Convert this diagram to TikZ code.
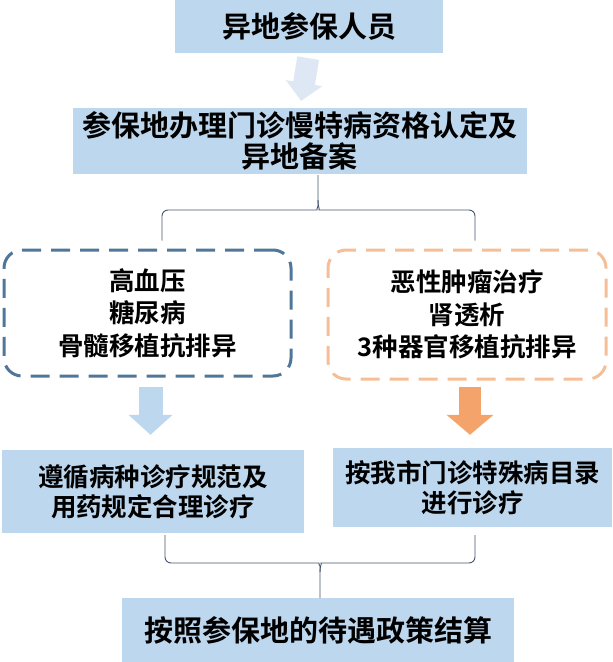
\documentclass[tikz,border=0pt]{standalone}
\usepackage{fontspec}
\setmainfont{Noto Sans CJK SC}[BoldFont={Noto Sans CJK SC Bold}]
\usetikzlibrary{arrows.meta,positioning}

\definecolor{boxblue}{HTML}{BDD7EE}
\definecolor{paleblue}{HTML}{DDE8F4}
\definecolor{dashblue}{HTML}{507699}
\definecolor{dashorange}{HTML}{F5BE96}
\definecolor{fatorange}{HTML}{F4A46A}
\definecolor{braceline}{HTML}{44546A}

\tikzset{
  flowbox/.style={fill=boxblue, inner sep=0pt, align=center},
  bigtext/.style={font=\bfseries\fontsize{29}{31}\selectfont},
  midtext/.style={font=\bfseries\fontsize{25.5}{30}\selectfont},
  dashbox/.style={rounded corners=18pt, line width=3pt, dash pattern=on 19pt off 10pt,
    inner sep=0pt, align=center, font=\bfseries\fontsize{25.5}{32.5}\selectfont},
  fatarrow/.style={line width=#1, shorten <=5pt},
  brace/.style={draw=braceline, line width=0.9pt, rounded corners=6pt}
}

\begin{document}
\begin{tikzpicture}[x=1pt, y=-1pt]
  \useasboundingbox (0,0) rectangle (613,662);

  \node (ppl) [flowbox, bigtext, minimum width=268pt, minimum height=53pt] at (309,26.5) {异地参保人员};
  \node (reg) [flowbox, bigtext, minimum width=454pt, minimum height=66pt] at (300,141) {参保地办理门诊慢特病资格认定及\\异地备案};

  \node (dashL) [dashbox, draw=dashblue, minimum width=287pt, minimum height=126pt] at (147.5,313) {高血压\\糖尿病\\骨髓移植抗排异};
  \node (dashR) [dashbox, draw=dashorange, minimum width=278pt, minimum height=129pt] at (467,314.5) {恶性肿瘤治疗\\肾透析\\3种器官移植抗排异};

  \node (boxL) [flowbox, midtext, minimum width=302pt, minimum height=83pt] at (153,491.5) {遵循病种诊疗规范及\\用药规定合理诊疗};
  \node (boxR) [flowbox, midtext, minimum width=279pt, minimum height=79pt] at (472.5,487.5) {按我市门诊特殊病目录\\进行诊疗};

  \node (settle) [flowbox, bigtext, minimum width=392pt, minimum height=64pt] at (318,630) {按照参保地的待遇政策结算};

  % fat arrows
  \draw[fatarrow=22pt, paleblue, -{Triangle[width=36pt,length=18pt]}, shorten >=7pt]
    (ppl.south) -- (reg.north);
  \draw[fatarrow=24pt, boxblue, -{Triangle[width=43pt,length=20pt]}, shorten <=9pt, shorten >=15pt]
    ([xshift=3pt]dashL.south) -- ([xshift=3pt]dashL.south |- boxL.north);
  \draw[fatarrow=22pt, fatorange, -{Triangle[width=46pt,length=20pt]}, shorten <=6pt, shorten >=13pt]
    ([xshift=3pt]dashR.south) -- ([xshift=3pt]dashR.south |- boxR.north);

  % braces
  \coordinate (tTip) at (318,175);
  \draw[brace] ([xshift=14.5pt,yshift=8pt]dashL.north) |- (311,210) .. controls (316,210) and (318,207) .. (318,200) -- (tTip);
  \draw[brace] ([xshift=8pt,yshift=8pt]dashR.north) |- (325,210) .. controls (320,210) and (318,207) .. (318,200);

  \coordinate (bTip) at (320,598);
  \draw[brace] ([xshift=12pt,yshift=-2pt]boxL.south) |- (313,563) .. controls (318,563) and (320,566) .. (320,572) -- (bTip);
  \draw[brace] ([xshift=2.5pt,yshift=-8pt]boxR.south) |- (327,563) .. controls (322,563) and (320,566) .. (320,572);
\end{tikzpicture}
\end{document}
